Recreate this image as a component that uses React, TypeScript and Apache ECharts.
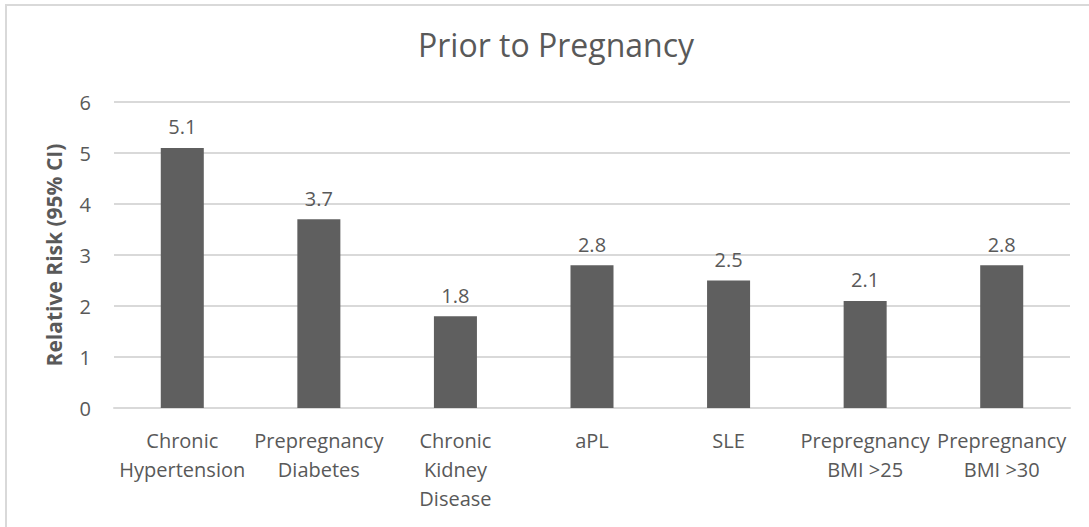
import React, { useEffect, useRef } from "react";
import * as echarts from "echarts";

const categories = [
  "Chronic\nHypertension",
  "Prepregnancy\nDiabetes",
  "Chronic\nKidney\nDisease",
  "aPL",
  "SLE",
  "Prepregnancy\nBMI >25",
  "Prepregnancy\nBMI >30",
];
const values = [5.1, 3.7, 1.8, 2.8, 2.5, 2.1, 2.8];
const yTicks = [0, 1, 2, 3, 4, 5, 6];

const FONT = "'Open Sans', sans-serif";
const TEXT = "#595959";

export default function App() {
  const ref = useRef<HTMLDivElement>(null);
  useEffect(() => {
    if (!ref.current) return;
    const chart = echarts.init(ref.current, undefined, { renderer: "svg" });
    chart.setOption({
      animation: false,
      backgroundColor: "#ffffff",
      title: {
        text: "Prior to Pregnancy",
        left: 551,
        top: 23,
        textAlign: "center",
        textStyle: { fontFamily: FONT, fontSize: 32, fontWeight: "normal", color: TEXT },
      },
      graphic: [
        {
          type: "rect",
          shape: { x: 6, y: 5, width: 1200, height: 700 },
          style: { fill: "none", stroke: "#d9d9d9", lineWidth: 2 },
          silent: true,
        },
      ],
      grid: { left: 114, right: 19, top: 102, bottom: 119, containLabel: false },
      xAxis: {
        type: "category",
        data: categories,
        axisLine: { show: true, lineStyle: { color: "#d9d9d9", width: 2 } },
        axisTick: { show: false },
        axisLabel: {
          interval: 0,
          color: TEXT,
          fontFamily: FONT,
          fontSize: 20,
          lineHeight: 29,
          margin: 18,
          align: "center",
        },
      },
      yAxis: {
        type: "value",
        min: yTicks[0],
        max: yTicks[yTicks.length - 1],
        interval: 1,
        name: "Relative Risk (95% CI)",
        nameLocation: "middle",
        nameGap: 50,
        nameTextStyle: { color: TEXT, fontFamily: FONT, fontSize: 21, fontWeight: "bold" },
        axisLine: { show: false },
        axisTick: { show: false },
        axisLabel: { color: TEXT, fontFamily: FONT, fontSize: 20, margin: 23 },
        splitLine: { lineStyle: { color: "#d9d9d9", width: 2 } },
      },
      series: [
        {
          type: "bar",
          data: values,
          barWidth: "31.5%",
          itemStyle: { color: "#5f5f5f" },
          label: {
            show: true,
            position: "top",
            distance: 11,
            color: TEXT,
            fontFamily: FONT,
            fontSize: 20,
            formatter: (p: any) => Number(p.value).toFixed(1),
          },
        },
      ],
    });
    return () => chart.dispose();
  }, []);
  return (
    <div
      ref={ref}
      style={{ position: "absolute", left: 0, top: 0, width: 1089, height: 527 }}
    />
  );
}
